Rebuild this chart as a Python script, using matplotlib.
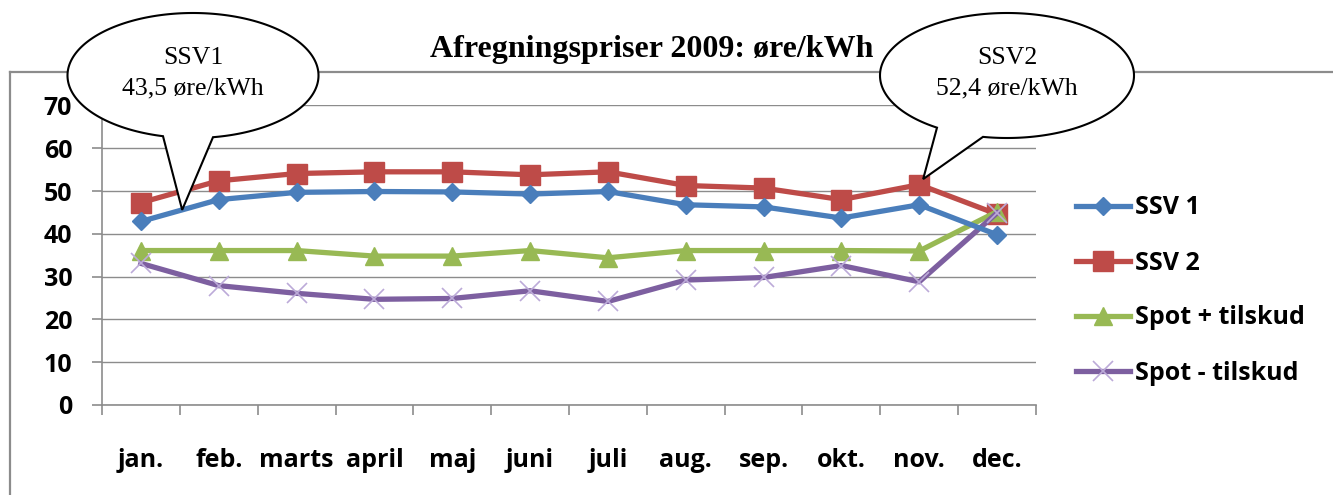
import numpy as np
import matplotlib.pyplot as plt
from matplotlib.patches import Polygon
from matplotlib.ticker import MultipleLocator

# data
months = ['jan.', 'feb.', 'marts', 'april', 'maj', 'juni', 'juli',
          'aug.', 'sep.', 'okt.', 'nov.', 'dec.']
ssv1 = [42.9, 48.0, 49.7, 49.9, 49.8, 49.3, 49.9, 46.8, 46.3, 43.7, 46.8, 39.8]
ssv2 = [47.3, 52.4, 54.1, 54.5, 54.5, 53.8, 54.5, 51.3, 50.7, 48.0, 51.5, 44.6]
spot_plus = [36.1, 36.1, 36.1, 34.8, 34.8, 36.1, 34.4, 36.1, 36.1, 36.1, 36.0, 45.2]
spot_minus = [33.1, 27.9, 26.1, 24.7, 24.9, 26.7, 24.2, 29.2, 29.8, 32.6, 28.8, 44.9]

title = 'Afregningspriser 2009: øre/kWh'
callout1 = ('SSV1', '43,5 øre/kWh')
callout2 = ('SSV2', '52,4 øre/kWh')

W, H = 1333, 495
gray = '#8c8c8c'
sans = 'Open Sans'
serif = 'Liberation Serif'
fs = 18

fig = plt.figure(figsize=(W / 100, H / 100), dpi=100)
ax = fig.add_axes([102 / W, 90 / H, 934 / W, 299.5 / H])

x = np.arange(len(months))
ax.plot(x, ssv1, color='#4a7ebb', lw=3.8, marker='D', ms=9.5,
        mfc='#4a7ebb', mec='#4a7ebb', label='SSV 1', zorder=4)
ax.plot(x, ssv2, color='#be4b48', lw=3.8, marker='s', ms=14,
        mfc='#be4b48', mec='#be4b48', label='SSV 2', zorder=3)
ax.plot(x, spot_plus, color='#98b954', lw=3.8, marker='^', ms=13,
        mfc='#98b954', mec='#98b954', label='Spot + tilskud', zorder=3)
ax.plot(x, spot_minus, color='#7d5fa0', lw=3.8, marker='x', ms=15,
        mec='#bcaad8', mew=1.2, label='Spot - tilskud', zorder=3)

ax.set_xlim(-0.5, len(months) - 0.5)
ax.set_ylim(0, 70)
ax.yaxis.set_major_locator(MultipleLocator(10))
ax.grid(axis='y', color=gray, lw=1)
ax.set_axisbelow(True)
for s in ['top', 'right']:
    ax.spines[s].set_visible(False)
for s in ['left', 'bottom']:
    ax.spines[s].set_color(gray)
    ax.spines[s].set_linewidth(1.2)

ax.set_xticks(x)
ax.set_xticklabels(months)
ax.set_xticks(np.arange(-0.5, len(months), 1), minor=True)
ax.tick_params(axis='x', which='major', length=0, pad=31)
ax.tick_params(axis='x', which='minor', length=7.5, color=gray, width=1.2)
ax.tick_params(axis='y', length=7.5, color=gray, width=1.2, pad=14)
for lab in ax.get_xticklabels() + ax.get_yticklabels():
    lab.set_fontfamily(sans)
    lab.set_fontweight('bold')
    lab.set_fontsize(fs)

ax.legend(loc='center left', bbox_to_anchor=(1076 / W, 1 - 290.5 / H),
          bbox_transform=fig.transFigure, frameon=False, borderpad=0,
          borderaxespad=0, handlelength=2.15, handletextpad=0.2,
          labelspacing=1.2, prop={'family': sans, 'weight': 'bold', 'size': fs})

# overlay in pixel coordinates for frame and callouts
ov = fig.add_axes([0, 0, 1, 1])
ov.set_xlim(0, W)
ov.set_ylim(H, 0)
ov.axis('off')
ov.patch.set_alpha(0)
ov.set_zorder(5)

ov.plot([10, 10], [72, H + 5], color=gray, lw=1.6)
ov.plot([10, W + 5], [72, 72], color=gray, lw=1.6)


def to_px(xd, yd):
    px, py = ax.transData.transform((xd, yd))
    return px, H - py


def callout(cx, cy, a, b, xl, xr, tip, lines):
    tl = np.arccos((xl - cx) / a)
    tr = np.arccos((xr - cx) / a)
    t = np.linspace(tl, tr + 2 * np.pi, 400)
    pts = np.column_stack([cx + a * np.cos(t), cy + b * np.sin(t)])
    pts = np.vstack([pts, tip])
    ov.add_patch(Polygon(pts, closed=True, facecolor='white',
                         edgecolor='black', lw=1.5, zorder=3))
    ov.text(cx, 64, lines[0], ha='center', va='baseline', family=serif,
            fontsize=18.5, zorder=4)
    ov.text(cx, 94, lines[1], ha='center', va='baseline', family=serif,
            fontsize=18.5, zorder=4)


callout(193, 75.5, 125.5, 62.5, 163, 213, to_px(0.53, 45.6), callout1)
callout(1007, 75.5, 127, 62.5, 937, 983, to_px(10.05, 52.8), callout2)

ov.text(652, 57, title, ha='center', va='baseline', family=serif,
        fontweight='bold', fontsize=23, zorder=4)

fig.savefig('out.png', dpi=100)
